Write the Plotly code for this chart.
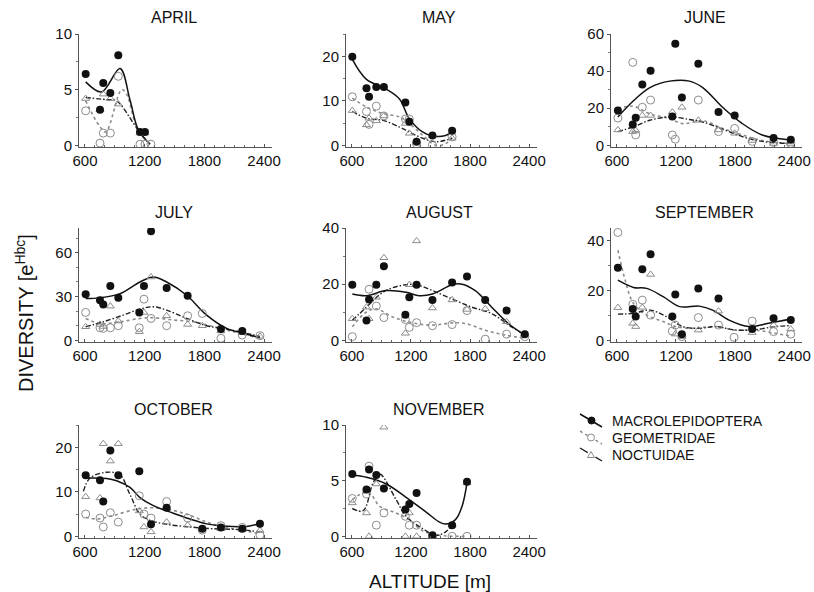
import plotly.graph_objects as go

# ---------------- DATA ----------------
MONTHS = ["APRIL", "MAY", "JUNE", "JULY", "AUGUST", "SEPTEMBER", "OCTOBER", "NOVEMBER"]

# station altitudes [m] and diversity values (None = no visible point)
APR_ALT = [607, 751, 784, 855, 935, 1153, 1203, 1263]
APR_MACRO = [6.4, 3.2, 5.6, 4.7, 8.1, 1.2, 1.2, None]
APR_GEOM = [3.1, 0.2, 1.1, 1.1, 6.2, 0.1, 0.1, 0.1]
APR_NOCT = [4.2, 3.2, 4.6, 4.2, 3.7, 1.1, 1.1, None]
APR_MACRO_FIT_X = [607, 768, 952, 1052, 1136, 1253]
APR_MACRO_FIT_Y = [5.7, 4.8, 6.9, 4.1, 1.4, 0.1]
APR_GEOM_FIT_X = [607, 741, 808, 969, 1019, 1119, 1253]
APR_GEOM_FIT_Y = [4.0, 1.8, 1.2, 5.0, 4.6, 1.7, 0.1]
APR_NOCT_FIT_X = [607, 817, 917, 1086, 1153, 1253]
APR_NOCT_FIT_Y = [4.3, 4.1, 4.0, 2.0, 1.1, 0.1]

MAY_ALT = [604, 748, 774, 848, 925, 1143, 1183, 1257, 1418, 1618]
MAY_MACRO = [19.9, 12.8, 10.9, 13.1, 13.1, 9.6, 5.3, 0.8, 2.2, 3.3]
MAY_GEOM = [10.9, 7.6, 4.7, 8.8, 6.6, 5.9, 5.9, 0.3, 0.1, 1.9]
MAY_NOCT = [7.8, 4.6, 6.1, 5.5, 6.6, 4.9, 2.7, 1.0, 2.2, 1.6]
MAY_MACRO_FIT_X = [604, 748, 949, 1083, 1183, 1317, 1418, 1552, 1618]
MAY_MACRO_FIT_Y = [19.3, 14.8, 12.6, 10.4, 6.0, 3.0, 2.1, 2.2, 3.0]
MAY_GEOM_FIT_X = [604, 748, 915, 1083, 1183, 1317, 1452, 1552, 1618]
MAY_GEOM_FIT_Y = [10.6, 8.6, 7.1, 6.4, 4.9, 2.3, 0.0, 0.4, 1.7]
MAY_NOCT_FIT_X = [604, 748, 915, 1083, 1183, 1317, 1452, 1618]
MAY_NOCT_FIT_Y = [7.6, 6.1, 5.6, 4.1, 3.0, 1.6, 0.8, 1.6]

JUN_ALT = [610, 761, 791, 858, 942, 1163, 1193, 1260, 1427, 1632, 1796, 1974, 2191, 2366]
JUN_MACRO = [18.8, 11.2, 14.9, 32.8, 40.2, 15.6, 54.7, 25.8, 43.9, 17.9, 16.1, None, 3.9, 3.0]
JUN_GEOM = [14.7, 44.7, 5.6, 20.5, 24.4, 5.6, 3.3, None, 24.4, 7.4, 9.1, 2.1, 1.6, 1.0]
JUN_NOCT = [8.3, 7.4, 8.0, 16.1, 16.1, 17.9, None, 20.5, 13.5, 8.3, 6.5, 2.6, 1.0, 1.0]
JUN_MACRO_FIT_X = [610, 768, 935, 1136, 1337, 1472, 1673, 1874, 2075, 2342]
JUN_MACRO_FIT_Y = [15.3, 24.0, 31.1, 34.6, 34.6, 31.1, 20.5, 11.7, 5.6, 3.0]
JUN_GEOM_FIT_X = [610, 768, 935, 1136, 1270, 1472, 1673, 1874, 2075, 2342]
JUN_GEOM_FIT_Y = [20.0, 21.0, 17.0, 14.4, 11.7, 13.2, 9.1, 5.6, 2.6, 1.0]
JUN_NOCT_FIT_X = [610, 768, 935, 1136, 1337, 1472, 1673, 1874, 2075, 2342]
JUN_NOCT_FIT_Y = [7.4, 10.0, 13.5, 15.3, 13.9, 12.6, 8.7, 4.7, 2.1, 1.0]

JUL_ALT = [607, 751, 784, 855, 935, 1146, 1193, 1264, 1421, 1632, 1779, 1967, 2181, 2359]
JUL_MACRO = [31.6, 27.5, 24.5, 37.3, 29.1, 19.1, 37.3, 74.8, 35.9, 30.5, None, 7.7, 6.4, None]
JUL_GEOM = [19.1, 8.6, 8.2, 8.6, 10.0, 8.6, 28.2, 15.0, 10.0, 16.8, 18.4, 1.4, 3.6, 3.2]
JUL_NOCT = [9.3, 10.9, 9.5, 23.4, 13.2, 5.9, 19.1, 43.4, 16.8, 10.9, 10.0, 6.4, 5.2, 2.7]
JUL_MACRO_FIT_X = [607, 751, 952, 1153, 1287, 1421, 1622, 1823, 2024, 2191, 2359]
JUL_MACRO_FIT_Y = [28.6, 29.1, 32.0, 40.0, 43.4, 40.0, 30.9, 17.3, 8.2, 4.8, 1.8]
JUL_GEOM_FIT_X = [607, 751, 952, 1153, 1287, 1488, 1689, 1890, 2091, 2292]
JUL_GEOM_FIT_Y = [15.0, 11.6, 12.7, 15.0, 15.5, 13.9, 12.7, 9.3, 5.9, 2.5]
JUL_NOCT_FIT_X = [607, 784, 985, 1153, 1287, 1421, 1622, 1823, 2024, 2225, 2359]
JUL_NOCT_FIT_Y = [9.3, 12.7, 17.3, 21.4, 23.0, 20.7, 15.0, 10.0, 7.7, 4.8, 2.7]

AUG_ALT = [604, 748, 774, 848, 925, 1143, 1183, 1257, 1418, 1618, 1769, 1954, 2171, 2356]
AUG_MACRO = [19.8, 7.1, 14.5, 19.8, 26.4, 9.1, 15.3, 19.8, 14.4, 20.6, 22.7, 14.4, 10.6, 2.2]
AUG_GEOM = [1.3, None, 18.2, 12.2, 8.1, 7.4, 4.6, 6.3, 5.2, 5.6, 10.6, 0.4, 2.2, 1.3]
AUG_NOCT = [7.7, 11.8, 7.7, 15.3, 29.4, 2.5, 19.8, 35.4, 11.5, 14.4, 11.0, 11.2, 6.6, 2.2]
AUG_MACRO_FIT_X = [604, 748, 949, 1150, 1284, 1418, 1618, 1719, 1853, 2020, 2188, 2356]
AUG_MACRO_FIT_Y = [16.5, 15.9, 17.7, 17.1, 15.9, 16.5, 19.8, 20.0, 17.7, 11.8, 6.0, 1.9]
AUG_GEOM_FIT_X = [604, 748, 848, 1015, 1217, 1418, 1618, 1752, 1954, 2154, 2356]
AUG_GEOM_FIT_Y = [4.8, 10.1, 11.2, 8.3, 6.2, 5.4, 6.2, 6.0, 3.6, 1.9, 0.7]
AUG_NOCT_FIT_X = [604, 748, 915, 1083, 1250, 1418, 1618, 1819, 2020, 2221, 2356]
AUG_NOCT_FIT_Y = [7.1, 11.8, 17.1, 19.4, 19.8, 17.7, 14.7, 11.8, 9.5, 4.8, 1.9]

SEP_ALT = [610, 761, 791, 858, 942, 1163, 1193, 1260, 1427, 1632, 1790, 1974, 2191, 2366]
SEP_MACRO = [29.1, 12.5, 9.5, 28.5, 34.5, 9.5, 18.4, 2.4, 20.8, 16.8, None, 4.5, 8.8, 8.1]
SEP_GEOM = [43.2, 14.4, None, 16.1, 10.1, 3.7, 6.1, 1.5, 9.1, 6.1, 1.2, 7.7, 3.5, 2.5]
SEP_NOCT = [13.1, 6.8, 5.5, 13.2, 26.4, None, 2.5, 1.5, 4.1, 11.7, None, 3.1, 6.1, 4.5]
SEP_MACRO_FIT_X = [610, 768, 902, 1070, 1237, 1437, 1572, 1739, 1940, 2141, 2366]
SEP_MACRO_FIT_Y = [24.1, 21.2, 20.8, 17.5, 13.5, 13.7, 12.1, 8.1, 5.5, 6.8, 8.5]
SEP_GEOM_FIT_X = [610, 684, 768, 902, 1070, 1203, 1337, 1605, 1806, 2007, 2208, 2366]
SEP_GEOM_FIT_Y = [36.1, 24.1, 14.8, 10.1, 7.5, 5.5, 4.8, 5.5, 4.1, 4.1, 2.8, 1.7]
SEP_NOCT_FIT_X = [610, 768, 935, 1103, 1270, 1437, 1605, 1806, 2007, 2208, 2366]
SEP_NOCT_FIT_Y = [10.5, 10.8, 12.1, 9.5, 5.5, 4.8, 5.5, 4.1, 4.3, 5.5, 5.9]

OCT_ALT = [607, 751, 784, 855, 935, 1146, 1193, 1264, 1421, 1632, 1779, 1967, 2181, 2359]
OCT_MACRO = [13.7, 12.6, 7.8, 19.3, 13.7, 14.6, None, 2.7, 6.4, None, 1.7, 2.0, 1.7, 2.8]
OCT_GEOM = [5.0, 4.1, 2.1, 5.3, 3.2, 9.1, 5.0, 4.1, 7.8, 4.1, 1.4, 2.4, 2.0, 0.3]
OCT_NOCT = [8.9, 8.6, 20.8, 16.9, 20.8, 5.7, 2.1, 1.0, 3.2, 2.5, 1.7, 1.7, 1.5, 1.3]
OCT_MACRO_FIT_X = [607, 818, 918, 1052, 1153, 1287, 1488, 1656, 1823, 1991, 2225, 2359]
OCT_MACRO_FIT_Y = [13.1, 13.0, 12.5, 11.0, 8.7, 6.9, 5.2, 3.9, 2.8, 2.3, 2.2, 2.9]
OCT_GEOM_FIT_X = [607, 718, 885, 1120, 1287, 1488, 1656, 1823, 1991, 2158, 2359]
OCT_GEOM_FIT_Y = [4.3, 3.9, 4.7, 6.1, 6.4, 5.8, 4.7, 3.2, 2.1, 1.4, 0.6]
OCT_NOCT_FIT_X = [584, 651, 818, 952, 1052, 1153, 1253, 1421, 1656, 1890, 2158, 2359]
OCT_NOCT_FIT_Y = [10.1, 13.1, 14.4, 13.8, 9.4, 5.0, 3.6, 2.7, 2.1, 1.7, 1.5, 1.0]

NOV_ALT = [604, 748, 774, 848, 925, 1143, 1183, 1257, 1418, 1618, 1769]
NOV_MACRO = [5.6, 4.2, 6.0, 5.5, 4.3, 2.4, 2.9, 3.9, 0.1, 1.0, 4.9]
NOV_GEOM = [3.4, 3.8, 6.3, 1.0, 2.1, 1.8, 1.0, 1.0, 0.0, 0.0, 0.0]
NOV_NOCT = [3.0, 2.1, 0.0, 4.7, 9.8, 0.0, 2.1, 0.0, 0.0, 1.0, 4.8]
NOV_MACRO_FIT_X = [604, 748, 949, 1150, 1351, 1485, 1552, 1652, 1719, 1769]
NOV_MACRO_FIT_Y = [5.5, 5.3, 4.7, 3.5, 2.2, 1.3, 1.1, 1.5, 2.7, 4.8]
NOV_GEOM_FIT_X = [604, 714, 781, 882, 1049, 1183, 1317, 1485, 1769]
NOV_GEOM_FIT_Y = [3.3, 3.9, 3.9, 2.7, 2.1, 1.5, 0.5, 0.1, 0.0]
NOV_NOCT_FIT_X = [604, 714, 815, 882, 1049, 1150, 1317, 1452, 1552, 1618]
NOV_NOCT_FIT_Y = [2.5, 2.3, 4.8, 5.6, 3.3, 1.8, 0.7, 0.1, 0.4, 1.0]

Y_MAX = [10, 25, 60, 77, 40, 45, 25, 10]
Y_TICKS = [[0, 5, 10], [0, 10, 20], [0, 20, 40, 60], [0, 30, 60],
           [0, 20, 40], [0, 20, 40], [0, 10, 20], [0, 5, 10]]
X_TICKS = [600, 1200, 1800, 2400]
SERIES_NAMES = ["MACROLEPIDOPTERA", "GEOMETRIDAE", "NOCTUIDAE"]

PANELS = [
    (APR_ALT, APR_MACRO, APR_GEOM, APR_NOCT, APR_MACRO_FIT_X, APR_MACRO_FIT_Y, APR_GEOM_FIT_X, APR_GEOM_FIT_Y, APR_NOCT_FIT_X, APR_NOCT_FIT_Y),
    (MAY_ALT, MAY_MACRO, MAY_GEOM, MAY_NOCT, MAY_MACRO_FIT_X, MAY_MACRO_FIT_Y, MAY_GEOM_FIT_X, MAY_GEOM_FIT_Y, MAY_NOCT_FIT_X, MAY_NOCT_FIT_Y),
    (JUN_ALT, JUN_MACRO, JUN_GEOM, JUN_NOCT, JUN_MACRO_FIT_X, JUN_MACRO_FIT_Y, JUN_GEOM_FIT_X, JUN_GEOM_FIT_Y, JUN_NOCT_FIT_X, JUN_NOCT_FIT_Y),
    (JUL_ALT, JUL_MACRO, JUL_GEOM, JUL_NOCT, JUL_MACRO_FIT_X, JUL_MACRO_FIT_Y, JUL_GEOM_FIT_X, JUL_GEOM_FIT_Y, JUL_NOCT_FIT_X, JUL_NOCT_FIT_Y),
    (AUG_ALT, AUG_MACRO, AUG_GEOM, AUG_NOCT, AUG_MACRO_FIT_X, AUG_MACRO_FIT_Y, AUG_GEOM_FIT_X, AUG_GEOM_FIT_Y, AUG_NOCT_FIT_X, AUG_NOCT_FIT_Y),
    (SEP_ALT, SEP_MACRO, SEP_GEOM, SEP_NOCT, SEP_MACRO_FIT_X, SEP_MACRO_FIT_Y, SEP_GEOM_FIT_X, SEP_GEOM_FIT_Y, SEP_NOCT_FIT_X, SEP_NOCT_FIT_Y),
    (OCT_ALT, OCT_MACRO, OCT_GEOM, OCT_NOCT, OCT_MACRO_FIT_X, OCT_MACRO_FIT_Y, OCT_GEOM_FIT_X, OCT_GEOM_FIT_Y, OCT_NOCT_FIT_X, OCT_NOCT_FIT_Y),
    (NOV_ALT, NOV_MACRO, NOV_GEOM, NOV_NOCT, NOV_MACRO_FIT_X, NOV_MACRO_FIT_Y, NOV_GEOM_FIT_X, NOV_GEOM_FIT_Y, NOV_NOCT_FIT_X, NOV_NOCT_FIT_Y),
]

# ---------------- LAYOUT / STYLE ----------------
W, H = 814, 592
FONT = "Liberation Sans, Arial, Helvetica, sans-serif"
def px(x): return x / W
def py(y): return 1 - y / H

COLS = [(79, 272), (346, 537), (611, 802)]
ROWS = [(34, 147), (228, 342), (425, 538)]
X_RANGE = [540, 2480]

MACRO_C = "#111111"
GEOM_C = "#8c8c8c"
NOCT_C = "#8c8c8c"
NOCT_LINE_C = "#222222"
NOCT_DASH = "5px,2px,1.5px,2px"

fig = go.Figure()
layout = dict(
    width=W, height=H, autosize=False, margin=dict(l=0, r=0, t=0, b=0, pad=0),
    paper_bgcolor="white", plot_bgcolor="white", showlegend=False,
    font=dict(family=FONT, color="#111111"),
    annotations=[], shapes=[],
)

for i, name in enumerate(MONTHS):
    r, c = divmod(i, 3)
    k = "" if i == 0 else str(i + 1)
    xa, ya = "x" + k, "y" + k
    (alt, mac, geo, noc, mfx, mfy, gfx, gfy, nfx, nfy) = PANELS[i]
    ymax = Y_MAX[i]
    ytk = Y_TICKS[i]
    major = ytk[1] - ytk[0]

    layout["xaxis" + k] = dict(
        domain=[px(COLS[c][0]), px(COLS[c][1])], anchor=ya, range=X_RANGE,
        automargin=False,
        tickvals=X_TICKS, ticks="inside", ticklen=3, tickcolor="#555",
        showline=True, linecolor="#555", linewidth=1, showgrid=False, zeroline=False,
        tickfont=dict(size=15, family=FONT, color="#111"),
        minor=dict(dtick=100, tick0=0, ticks="inside", ticklen=2, tickcolor="#666", showgrid=False),
    )
    layout["yaxis" + k] = dict(
        domain=[py(ROWS[r][1]), py(ROWS[r][0])], anchor=xa,
        automargin=False,
        range=[-0.015 * ymax, ymax], tickvals=ytk, ticks="outside", ticklen=3,
        tickcolor="#555", showline=True, linecolor="#555", linewidth=1,
        showgrid=False, zeroline=False,
        tickfont=dict(size=15, family=FONT, color="#111"),
        minor=dict(dtick=major / 2 if major != 30 else 10, tick0=0, ticks="outside",
                   ticklen=2, tickcolor="#777", showgrid=False),
    )

    # fitted curves
    fig.add_trace(go.Scatter(x=gfx, y=gfy, mode="lines", xaxis=xa, yaxis=ya,
                             line=dict(color=GEOM_C, width=1.6, dash="dot", shape="spline"),
                             name=SERIES_NAMES[1], hoverinfo="skip"))
    fig.add_trace(go.Scatter(x=nfx, y=nfy, mode="lines", xaxis=xa, yaxis=ya,
                             line=dict(color=NOCT_LINE_C, width=1.4, dash=NOCT_DASH, shape="spline"),
                             name=SERIES_NAMES[2], hoverinfo="skip"))
    fig.add_trace(go.Scatter(x=mfx, y=mfy, mode="lines", xaxis=xa, yaxis=ya,
                             line=dict(color=MACRO_C, width=1.5, shape="spline"),
                             name=SERIES_NAMES[0], hoverinfo="skip"))
    # points
    fig.add_trace(go.Scatter(x=alt, y=geo, mode="markers", xaxis=xa, yaxis=ya,
                             marker=dict(symbol="circle-open", size=8, color=GEOM_C, line=dict(width=1)),
                             name=SERIES_NAMES[1]))
    fig.add_trace(go.Scatter(x=alt, y=noc, mode="markers", xaxis=xa, yaxis=ya,
                             marker=dict(symbol="triangle-up-open", size=7, color=NOCT_C, line=dict(width=1)),
                             name=SERIES_NAMES[2]))
    fig.add_trace(go.Scatter(x=alt, y=mac, mode="markers", xaxis=xa, yaxis=ya,
                             marker=dict(symbol="circle", size=8, color=MACRO_C),
                             name=SERIES_NAMES[0]))

    # panel title
    cx = (COLS[c][0] + COLS[c][1]) / 2
    layout["annotations"].append(dict(
        text=name, x=px(cx - 2), y=py(ROWS[r][0] - 16), xref="paper", yref="paper",
        showarrow=False, xanchor="center", yanchor="middle",
        font=dict(size=16, family=FONT, color="#111")))

# axis titles
layout["annotations"].append(dict(
    text="ALTITUDE [m]", x=px(430), y=py(581), xref="paper", yref="paper",
    showarrow=False, xanchor="center", yanchor="middle",
    font=dict(size=19, family=FONT, color="#111")))
layout["annotations"].append(dict(
    text="DIVERSITY [e<sup>Hbc</sup>]", x=px(24), y=py(313), xref="paper", yref="paper",
    showarrow=False, xanchor="center", yanchor="middle", textangle=-90,
    font=dict(size=20, family=FONT, color="#111")))

# custom legend (diagonal line keys like the reference)
LEG = [  # (text center y, line style)
    (421, dict(color=MACRO_C, width=1.5)),
    (438, dict(color=GEOM_C, width=1.5, dash="dot")),
    (455, dict(color=NOCT_LINE_C, width=1.4, dash="dash")),
]
for j, (yy, ls) in enumerate(LEG):
    layout["shapes"].append(dict(type="line", xref="paper", yref="paper",
                                 x0=px(580), y0=py(yy - 7), x1=px(602), y1=py(yy + 6), line=ls))
    if j == 0:
        layout["shapes"].append(dict(type="circle", xref="paper", yref="paper",
                                     x0=px(588), x1=px(595), y0=py(yy - 4), y1=py(yy + 3),
                                     fillcolor=MACRO_C, line=dict(color=MACRO_C, width=1)))
    elif j == 1:
        layout["shapes"].append(dict(type="circle", xref="paper", yref="paper",
                                     x0=px(587.5), x1=px(594.5), y0=py(yy - 4), y1=py(yy + 3),
                                     fillcolor="white", line=dict(color=GEOM_C, width=1)))
    else:
        layout["shapes"].append(dict(type="path", xref="paper", yref="paper",
                                     path=f"M {px(591)} {py(yy-3.5)} L {px(594.5)} {py(yy+2.5)} L {px(587.5)} {py(yy+2.5)} Z",
                                     fillcolor="white", line=dict(color=NOCT_C, width=1)))
    layout["annotations"].append(dict(
        text=SERIES_NAMES[j], x=px(610), y=py(yy), xref="paper", yref="paper",
        showarrow=False, xanchor="left", yanchor="middle",
        font=dict(size=14, family=FONT, color="#111")))

fig.update_layout(**layout)
fig.write_html("out.html", config={"displayModeBar": False},
               post_script="document.body.style.margin='0';document.body.style.overflow='hidden';")
